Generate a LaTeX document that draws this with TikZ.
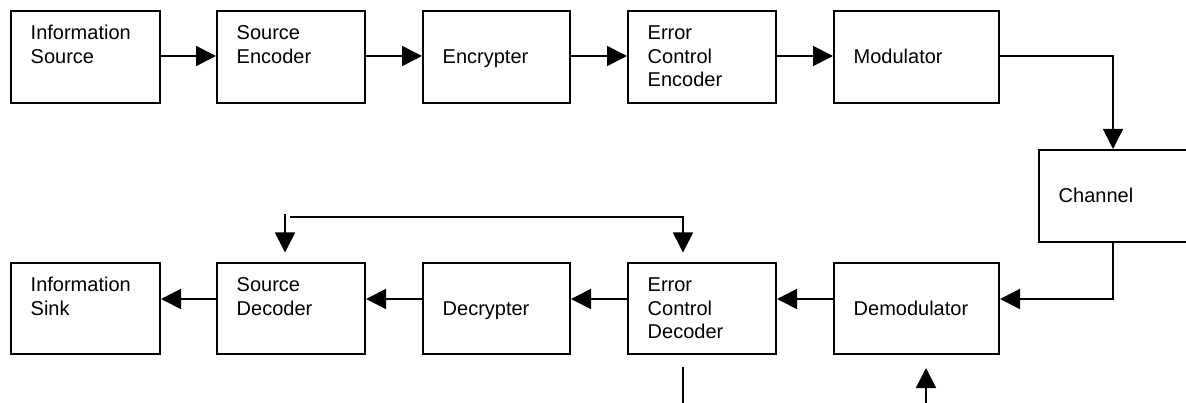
\documentclass[tikz,border=0pt]{standalone}
\usepackage{fontspec}
\setmainfont{Liberation Sans}
\usetikzlibrary{arrows.meta,calc}
\begin{document}
\begin{tikzpicture}[x=1pt,y=-1pt,
  blk/.style={draw, line width=1.7pt, inner sep=0pt, minimum height=92.3pt},
  blkw/.style={blk, minimum width=#1},
  txt/.style={anchor=base west, inner sep=0pt, outer sep=0pt,
              font=\fontsize{20pt}{23.5pt}\selectfont},
  arr/.style={line width=1.7pt, -{Triangle[length=20pt,width=20pt]}},
  wire/.style={line width=1.7pt}]
\useasboundingbox (0,0) rectangle (1186,403);
\clip (0,0) rectangle (1186,403);
\fill[white] (0,0) rectangle (1186,403);

% transmitter chain
\node[blkw=149.3pt] (b1) at (85.5,57) {};
\node[blkw=148.3pt] (b2) at (291,57) {};
\node[blkw=147.3pt] (b3) at (496.5,57) {};
\node[blkw=148.3pt] (b4) at (702,57) {};
\node[blkw=165.3pt] (b5) at (916.5,57) {};
% channel
\node[blkw=148.3pt] (ch) at (1113,196) {};
% receiver chain
\node[blkw=149.3pt, minimum height=91.3pt] (d1) at (85.5,308.5) {};
\node[blkw=148.3pt, minimum height=91.3pt] (d2) at (291,308.5) {};
\node[blkw=147.3pt, minimum height=91.3pt] (d3) at (496.5,308.5) {};
\node[blkw=148.3pt, minimum height=91.3pt] (d4) at (702,308.5) {};
\node[blkw=165.3pt, minimum height=91.3pt] (d5) at (916.5,308.5) {};

% labels
\node[txt] (t1) at ($(b1.north west)+(20.7,30)$) {\begin{tabular}[t]{@{}l@{}}Information\\Source\end{tabular}};
\node[txt] (t2) at ($(b2.north west)+(20.7,30)$) {\begin{tabular}[t]{@{}l@{}}Source\\Encoder\end{tabular}};
\node[txt] (t3) at ($(b3.north west)+(20.7,53.5)$) {Encrypter};
\node[txt] (t4) at ($(b4.north west)+(20.7,30)$) {\begin{tabular}[t]{@{}l@{}}Error\\Control\\Encoder\end{tabular}};
\node[txt] (t5) at ($(b5.north west)+(20.7,53.5)$) {Modulator};
\node[txt] (tc) at ($(ch.north west)+(20.7,53.5)$) {Channel};
\node[txt] (s1) at ($(d1.north west)+(20.7,30)$) {\begin{tabular}[t]{@{}l@{}}Information\\Sink\end{tabular}};
\node[txt] (s2) at ($(d2.north west)+(20.7,30)$) {\begin{tabular}[t]{@{}l@{}}Source\\Decoder\end{tabular}};
\node[txt] (s3) at ($(d3.north west)+(20.7,53.5)$) {Decrypter};
\node[txt] (s4) at ($(d4.north west)+(20.7,30)$) {\begin{tabular}[t]{@{}l@{}}Error\\Control\\Decoder\end{tabular}};
\node[txt] (s5) at ($(d5.north west)+(20.7,53.5)$) {Demodulator};

% signal levels of the two chains
\coordinate (ytop) at (0,56);
\coordinate (ybot) at (0,299);

% forward path
\draw[arr] (b1.east |- ytop) -- (b2.west |- ytop);
\draw[arr] (b2.east |- ytop) -- (b3.west |- ytop);
\draw[arr] (b3.east |- ytop) -- (b4.west |- ytop);
\draw[arr] (b4.east |- ytop) -- (b5.west |- ytop);
\draw[arr] (b5.east |- ytop) -| (ch.north);
\draw[arr] (ch.south) |- (d5.east |- ybot);
\draw[arr] (d5.west |- ybot) -- (d4.east |- ybot);
\draw[arr] (d4.west |- ybot) -- (d3.east |- ybot);
\draw[arr] (d3.west |- ybot) -- (d2.east |- ybot);
\draw[arr] (d2.west |- ybot) -- (d1.east |- ybot);

% inputs from above the decoders
\coordinate (fbA) at (285,214);
\coordinate (fbB) at (290,217);
\coordinate (fbC) at (683,217);
\draw[arr, shorten >=9.5pt] (fbA) -- (fbA |- d2.north);
\draw[arr, shorten >=9.5pt] (fbB) -- (fbC) -- (fbC |- d4.north);

% lines below the receiver
\coordinate (ecdOut) at (683,406);
\coordinate (demIn) at (926,406);
\draw[wire, shorten <=12pt] (d4.south -| ecdOut) -- (ecdOut);
\draw[arr, shorten >=13pt] (demIn) -- (demIn |- d5.south);
\end{tikzpicture}
\end{document}
